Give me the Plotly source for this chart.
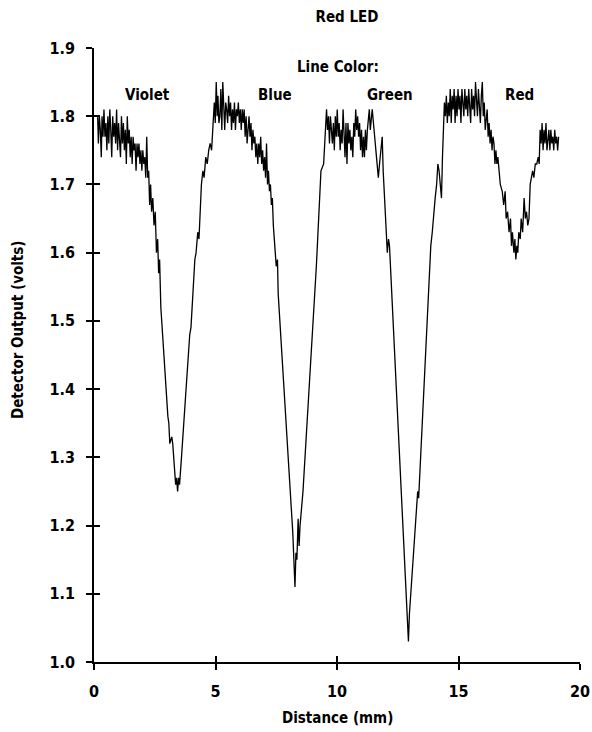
import plotly.graph_objects as go

# Detector trace (distance in mm, output in volts)
distance_mm = [
    0.15, 0.18, 0.22, 0.26, 0.30, 0.33, 0.37, 0.41, 0.45, 0.49, 0.53, 0.57, 0.61, 0.65, 0.69, 0.73,
    0.77, 0.81, 0.85, 0.89, 0.93, 0.97, 1.01, 1.05, 1.09, 1.13, 1.17, 1.21, 1.25, 1.29, 1.33, 1.37,
    1.41, 1.45, 1.49, 1.53, 1.57, 1.61, 1.65, 1.69, 1.73, 1.77, 1.81, 1.85, 1.89, 1.93, 1.97, 2.01,
    2.05, 2.09, 2.13, 2.17, 2.21, 2.25, 2.29, 2.33, 2.37, 2.42, 2.47, 2.52, 2.57, 2.62, 2.66, 2.70,
    2.75, 3.04, 3.08, 3.12, 3.20, 3.24, 3.30, 3.36, 3.40, 3.44, 3.48, 3.52, 3.60, 3.94, 3.99, 4.04,
    4.08, 4.15, 4.20, 4.27, 4.32, 4.36, 4.42, 4.48, 4.53, 4.60, 4.66, 4.72, 4.78, 4.84, 4.90, 4.95,
    4.99, 5.03, 5.07, 5.10, 5.14, 5.18, 5.22, 5.26, 5.30, 5.34, 5.38, 5.42, 5.46, 5.50, 5.54, 5.58,
    5.62, 5.66, 5.70, 5.74, 5.78, 5.82, 5.86, 5.90, 5.94, 5.98, 6.02, 6.06, 6.10, 6.14, 6.18, 6.22,
    6.26, 6.30, 6.34, 6.38, 6.42, 6.46, 6.50, 6.54, 6.58, 6.62, 6.66, 6.70, 6.74, 6.78, 6.82, 6.86,
    6.90, 6.94, 6.98, 7.02, 7.06, 7.10, 7.14, 7.18, 7.22, 7.26, 7.30, 7.34, 7.38, 7.45, 7.50, 7.55,
    7.58, 8.18, 8.24, 8.27, 8.31, 8.35, 8.40, 8.44, 8.48, 8.60, 9.15, 9.20, 9.30, 9.34, 9.45, 9.52,
    9.57, 9.61, 9.65, 9.69, 9.73, 9.77, 9.81, 9.85, 9.89, 9.93, 9.97, 10.01, 10.05, 10.09, 10.13, 10.17,
    10.21, 10.25, 10.29, 10.33, 10.37, 10.41, 10.45, 10.49, 10.53, 10.57, 10.61, 10.65, 10.69, 10.73, 10.77, 10.81,
    10.85, 10.89, 10.93, 10.97, 11.01, 11.05, 11.09, 11.13, 11.17, 11.21, 11.25, 11.29, 11.33, 11.37, 11.41, 11.45,
    11.50, 11.55, 11.60, 11.65, 11.70, 11.75, 11.80, 11.86, 11.90, 11.95, 12.00, 12.07, 12.12, 12.16, 12.94, 12.98,
    13.28, 13.32, 13.36, 13.80, 13.86, 13.92, 13.98, 14.04, 14.10, 14.15, 14.20, 14.26, 14.30, 14.34, 14.38, 14.42,
    14.46, 14.50, 14.54, 14.58, 14.62, 14.66, 14.70, 14.74, 14.78, 14.82, 14.86, 14.90, 14.94, 14.98, 15.02, 15.06,
    15.10, 15.14, 15.18, 15.22, 15.26, 15.30, 15.34, 15.38, 15.42, 15.46, 15.50, 15.54, 15.58, 15.62, 15.66, 15.70,
    15.74, 15.78, 15.82, 15.86, 15.90, 15.94, 15.98, 16.02, 16.06, 16.10, 16.14, 16.18, 16.22, 16.26, 16.30, 16.34,
    16.38, 16.42, 16.46, 16.50, 16.54, 16.58, 16.62, 16.66, 16.72, 16.80, 16.86, 16.92, 16.96, 17.02, 17.08, 17.14,
    17.18, 17.22, 17.28, 17.32, 17.36, 17.40, 17.44, 17.48, 17.54, 17.58, 17.64, 17.70, 17.75, 17.80, 17.85, 17.90,
    17.95, 18.00, 18.05, 18.10, 18.16, 18.22, 18.28, 18.32, 18.36, 18.40, 18.44, 18.48, 18.52, 18.56, 18.60, 18.64,
    18.68, 18.72, 18.76, 18.80, 18.84, 18.88, 18.92, 18.96, 19.00, 19.04, 19.08, 19.12,
]

output_volts = [
    1.80, 1.76, 1.80, 1.78, 1.74, 1.80, 1.77, 1.81, 1.77, 1.79, 1.75, 1.80, 1.76, 1.81, 1.78, 1.74,
    1.80, 1.77, 1.79, 1.76, 1.81, 1.75, 1.79, 1.77, 1.74, 1.80, 1.76, 1.79, 1.75, 1.78, 1.73, 1.80,
    1.76, 1.78, 1.74, 1.77, 1.73, 1.77, 1.75, 1.76, 1.72, 1.76, 1.74, 1.76, 1.73, 1.75, 1.72, 1.75,
    1.73, 1.74, 1.71, 1.77, 1.71, 1.72, 1.67, 1.70, 1.66, 1.68, 1.64, 1.66, 1.60, 1.62, 1.57, 1.59,
    1.52, 1.36, 1.35, 1.32, 1.33, 1.32, 1.29, 1.26, 1.27, 1.25, 1.27, 1.26, 1.30, 1.48, 1.49, 1.52,
    1.53, 1.59, 1.60, 1.63, 1.62, 1.66, 1.70, 1.72, 1.71, 1.74, 1.73, 1.75, 1.76, 1.75, 1.78, 1.82,
    1.79, 1.85, 1.80, 1.83, 1.79, 1.80, 1.84, 1.78, 1.85, 1.80, 1.78, 1.82, 1.81, 1.79, 1.83, 1.80,
    1.82, 1.78, 1.81, 1.79, 1.82, 1.78, 1.81, 1.80, 1.82, 1.79, 1.81, 1.78, 1.81, 1.79, 1.81, 1.77,
    1.80, 1.76, 1.79, 1.80, 1.77, 1.79, 1.75, 1.78, 1.76, 1.77, 1.74, 1.76, 1.73, 1.76, 1.74, 1.77,
    1.73, 1.75, 1.72, 1.74, 1.71, 1.76, 1.70, 1.72, 1.69, 1.70, 1.67, 1.68, 1.64, 1.60, 1.58, 1.59,
    1.54, 1.19, 1.15, 1.11, 1.16, 1.15, 1.21, 1.17, 1.20, 1.25, 1.58, 1.62, 1.70, 1.72, 1.73, 1.77,
    1.81, 1.78, 1.80, 1.76, 1.80, 1.78, 1.76, 1.79, 1.75, 1.80, 1.77, 1.81, 1.77, 1.79, 1.75, 1.78,
    1.76, 1.81, 1.77, 1.74, 1.79, 1.73, 1.79, 1.76, 1.78, 1.75, 1.77, 1.74, 1.79, 1.77, 1.81, 1.78,
    1.80, 1.77, 1.79, 1.75, 1.78, 1.74, 1.77, 1.74, 1.78, 1.75, 1.78, 1.80, 1.81, 1.78, 1.80, 1.81,
    1.79, 1.77, 1.74, 1.72, 1.71, 1.73, 1.75, 1.77, 1.72, 1.67, 1.65, 1.60, 1.62, 1.61, 1.03, 1.07,
    1.23, 1.25, 1.24, 1.58, 1.61, 1.63, 1.66, 1.68, 1.70, 1.73, 1.72, 1.69, 1.68, 1.74, 1.78, 1.82,
    1.80, 1.83, 1.79, 1.82, 1.80, 1.84, 1.79, 1.83, 1.81, 1.84, 1.79, 1.83, 1.80, 1.84, 1.81, 1.83,
    1.79, 1.84, 1.82, 1.80, 1.84, 1.81, 1.83, 1.80, 1.84, 1.82, 1.79, 1.84, 1.81, 1.83, 1.80, 1.85,
    1.82, 1.80, 1.84, 1.81, 1.79, 1.83, 1.85, 1.80, 1.82, 1.78, 1.80, 1.81, 1.77, 1.79, 1.76, 1.78,
    1.75, 1.77, 1.76, 1.73, 1.75, 1.73, 1.74, 1.72, 1.70, 1.69, 1.67, 1.69, 1.65, 1.66, 1.63, 1.65,
    1.61, 1.63, 1.60, 1.62, 1.59, 1.61, 1.60, 1.63, 1.62, 1.65, 1.63, 1.68, 1.65, 1.66, 1.64, 1.65,
    1.70, 1.71, 1.72, 1.71, 1.73, 1.73, 1.74, 1.73, 1.78, 1.76, 1.79, 1.75, 1.78, 1.76, 1.79, 1.75,
    1.77, 1.78, 1.75, 1.78, 1.76, 1.77, 1.75, 1.78, 1.76, 1.77, 1.75, 1.77,
]

line_color_labels = ["Violet", "Blue", "Green", "Red"]
label_x = [2.2, 7.45, 12.2, 17.5]
label_y = [1.831, 1.831, 1.831, 1.831]

x_ticks = [0, 5, 10, 15, 20]
y_ticks = [1.0, 1.1, 1.2, 1.3, 1.4, 1.5, 1.6, 1.7, 1.8, 1.9]
y_tick_text = ["1.0", "1.1", "1.2", "1.3", "1.4", "1.5", "1.6", "1.7", "1.8", "1.9"]

FONT = "Liberation Sans Narrow, DejaVu Sans Condensed, Arial Narrow, sans-serif"

fig = go.Figure()
fig.add_trace(go.Scatter(
    x=distance_mm, y=output_volts, mode="lines",
    line=dict(color="black", width=1.3), showlegend=False, hoverinfo="skip",
))
# invisible copy on overlay axes so inside tick marks are drawn (crossing ticks)
fig.add_trace(go.Scatter(
    x=distance_mm, y=output_volts, mode="lines", xaxis="x2", yaxis="y2",
    line=dict(color="rgba(0,0,0,0)", width=0), showlegend=False, hoverinfo="skip",
))

tickfont = dict(family=FONT, size=16, color="black", weight="bold")
common_x = dict(range=[0, 20], tickvals=x_ticks, showgrid=False, zeroline=False, automargin=False)
common_y = dict(range=[1.0, 1.9], tickvals=y_ticks, showgrid=False, zeroline=False, automargin=False)

label_font = dict(family=FONT, size=15, color="black", weight="bold")
annotations = [
    dict(text="Line Color:", x=10.06, y=1.872, xref="x", yref="y", showarrow=False, font=label_font),
    dict(text="Distance (mm)", x=0.5, y=(662 - 718) / 614, xref="paper", yref="paper",
         showarrow=False, yanchor="middle", font=label_font),
    dict(text="Detector Output (volts)", x=(18 - 94) / 486, y=(662 - 330) / 614, xref="paper",
         yref="paper", showarrow=False, textangle=-90, xanchor="center", yanchor="middle",
         font=label_font),
]
for t, xx, yy in zip(line_color_labels, label_x, label_y):
    annotations.append(dict(text=t, x=xx, y=yy, xref="x", yref="y", showarrow=False, font=label_font))

fig.update_layout(
    width=592, height=732, autosize=False,
    margin=dict(l=94, r=12, t=48, b=70, autoexpand=False),
    paper_bgcolor="white", plot_bgcolor="white",
    title=dict(text="Red LED", x=347 / 592, xref="container", xanchor="center",
               y=1 - 17 / 732, yref="container", yanchor="middle", font=label_font),
    xaxis=dict(**common_x, showline=True, linecolor="black", linewidth=1.5,
               ticks="outside", ticklen=6, tickwidth=1.5, tickcolor="black",
               tickfont=tickfont, ticklabelstandoff=8),
    yaxis=dict(**common_y, ticktext=y_tick_text, showline=True, linecolor="black", linewidth=1.5,
               ticks="outside", ticklen=6, tickwidth=1.5, tickcolor="black",
               tickfont=tickfont, ticklabelstandoff=8),
    xaxis2=dict(**common_x, overlaying="x", anchor="y2", showline=False,
                ticks="inside", ticklen=6, tickwidth=1.5, tickcolor="black",
                showticklabels=False),
    yaxis2=dict(**common_y, overlaying="y", anchor="x2", showline=False,
                ticks="inside", ticklen=6, tickwidth=1.5, tickcolor="black",
                showticklabels=False),
    annotations=annotations,
)

fig.write_html(
    "out.html",
    config={"displayModeBar": False, "responsive": False},
    post_script="document.body.style.margin='0';document.body.style.overflow='hidden';"
                "document.documentElement.style.overflow='hidden';",
)
